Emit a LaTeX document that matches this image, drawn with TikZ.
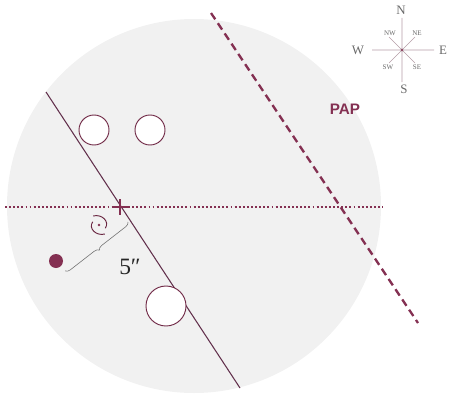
\documentclass[tikz,border=0pt]{standalone}
\usepackage{fontspec}
\setmainfont{Liberation Serif}
\newfontfamily\papfont{Liberation Sans}
\usetikzlibrary{decorations.pathreplacing, calc}
\definecolor{plum}{RGB}{132,48,82}
\definecolor{linepurple}{RGB}{98,48,76}
\definecolor{discgray}{RGB}{241,241,241}
\definecolor{compassgray}{RGB}{105,105,105}
\tikzset{
    hole/.style={circle, draw=plum!85!black, line width=0.8pt, fill=white, inner sep=0pt},
    ballmark/.style={circle, fill=plum, inner sep=0pt, minimum size=0.42cm},
    axisdots/.style={plum, line width=1.6pt, dash pattern=on 1.6pt off 1.9pt},
    papline/.style={plum, line width=2pt, dash pattern=on 6.5pt off 4pt},
    chord/.style={linepurple, line width=0.9pt},
    dimbrace/.style={black!55, line width=0.5pt, decorate, decoration={brace, amplitude=4pt}},
    compassline/.style={plum!45!gray!60, line width=0.5pt},
    windlabel/.style={text=compassgray, font=\fontsize{11}{11}\selectfont, inner sep=0pt},
    smallwind/.style={text=compassgray, font=\fontsize{6}{6}\selectfont, inner sep=0pt}
}

\begin{document}
\begin{tikzpicture}[x=0.03cm, y=-0.03cm]
    \useasboundingbox (0,0) rectangle (452,395);

    % the disc
    \fill[discgray] (194,206) circle[radius=187];

    % lines
    \coordinate (dotsleft) at (5,207);
    \coordinate (dotsright) at (383,207);
    \coordinate (chordtop) at (46,92);
    \coordinate (chordbot) at (240,388);
    \coordinate (paptop) at (211,13);
    \coordinate (papbot) at (418,323);
    \draw[axisdots] (dotsleft) -- (dotsright);
    \draw[chord] (chordtop) -- (chordbot);
    \draw[papline] (paptop) -- (papbot);
    \node[text=plum, font=\papfont\bfseries\fontsize{13}{13}\selectfont] (pap) at (345,109) {PAP};

    % holes and marks
    \node[hole, minimum size=0.9cm] (holeleft) at (94,130) {};
    \node[hole, minimum size=0.9cm] (holeright) at (150,130) {};
    \node[hole, minimum size=1.2cm] (holebig) at (166,306) {};
    \node[ballmark] (ball) at (56,261) {};
    \node[inner sep=0pt] (pivot) at (120,207) {};
    \draw[plum, line width=1.6pt] ($(pivot)+(-8,0)$) -- ($(pivot)+(8,0)$)
                                  ($(pivot)+(0,-8)$) -- ($(pivot)+(0,8)$);

    % distance from the ball to the line
    \coordinate (braceup) at (128,222);
    \coordinate (bracelow) at (65,271);
    \draw[dimbrace] (braceup) -- (bracelow);
    \node[font=\fontsize{20}{20}\selectfont, text=black!85] (dist) at (130,267) {5″};

    % spin mark
    \node[circle, fill=plum, inner sep=0pt, minimum size=2.2pt] (spin) at (99,225) {};
    \begin{scope}[shift={(spin)}, rotate=-35, plum!80!black, line width=0.8pt]
        \draw (-10,-4) .. controls (-4,-11) and (7,-9) .. (7,-1);
        \draw (10,4) .. controls (4,11) and (-7,9) .. (-7,1);
    \end{scope}

    % compass
    \node[inner sep=0pt] (rose) at (402,50) {};
    \draw[compassline] ($(rose)+(-30,0)$) -- ($(rose)+(32,0)$)
                       ($(rose)+(0,-32)$) -- ($(rose)+(0,32)$)
                       ($(rose)+(-13,-13)$) -- ($(rose)+(13,13)$)
                       ($(rose)+(-13,13)$) -- ($(rose)+(13,-13)$);
    \fill[plum] (rose) circle[radius=1.2];
    \node[windlabel] (north) at (401,10) {N};
    \node[windlabel] (south) at (404,89) {S};
    \node[windlabel] (west) at (358,50) {W};
    \node[windlabel] (east) at (443,50) {E};
    \node[smallwind] (nw) at (390,33) {NW};
    \node[smallwind] (ne) at (417,33) {NE};
    \node[smallwind] (sw) at (388,67) {SW};
    \node[smallwind] (se) at (417,67) {SE};
\end{tikzpicture}
\end{document}
